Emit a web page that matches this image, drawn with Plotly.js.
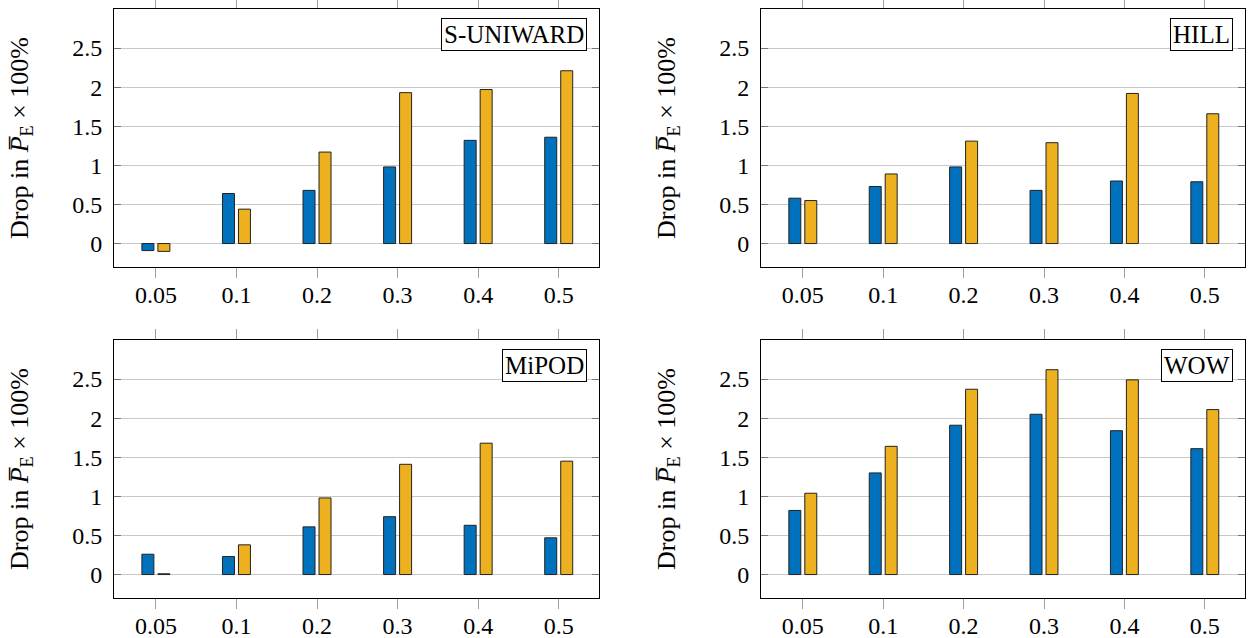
<!DOCTYPE html>
<html>
<head>
<meta charset="utf-8">
<script src="https://cdn.plot.ly/plotly-3.0.1.min.js"></script>
<style>html,body{margin:0;padding:0;background:#fff;}#chart{width:1248px;height:638px;}</style>
</head>
<body>
<div id="chart"></div>
<script>
// Embedding rates (categories)
const categories = ['0.05', '0.1', '0.2', '0.3', '0.4', '0.5'];
const yTicks = [0, 0.5, 1, 1.5, 2, 2.5];
const yTickLabels = ['0', '0.5', '1', '1.5', '2', '2.5'];
const panelNames = ['S-UNIWARD', 'HILL', 'MiPOD', 'WOW'];

// Drop in P_E x 100% (blue series, orange series)
const suniwardBlue   = [-0.09, 0.64, 0.68, 0.98, 1.32, 1.36];
const suniwardOrange = [-0.10, 0.44, 1.17, 1.93, 1.97, 2.21];
const hillBlue       = [0.58, 0.73, 0.98, 0.68, 0.80, 0.79];
const hillOrange     = [0.55, 0.89, 1.31, 1.29, 1.92, 1.66];
const mipodBlue      = [0.26, 0.23, 0.61, 0.74, 0.63, 0.47];
const mipodOrange    = [0.01, 0.38, 0.98, 1.41, 1.68, 1.45];
const wowBlue        = [0.82, 1.30, 1.91, 2.05, 1.84, 1.61];
const wowOrange      = [1.04, 1.64, 2.37, 2.62, 2.49, 2.11];

const blueSeries = [suniwardBlue, hillBlue, mipodBlue, wowBlue];
const orangeSeries = [suniwardOrange, hillOrange, mipodOrange, wowOrange];

const BLUE = '#0072BD', ORANGE = '#EDB120';
const FONT = '"Liberation Serif", "DejaVu Serif", serif';

const traces = [];
const layout = {
  width: 1248, height: 638,
  margin: {l: 0, r: 0, t: 0, b: 0},
  paper_bgcolor: '#ffffff', plot_bgcolor: '#ffffff',
  showlegend: false,
  barmode: 'group',
  bargap: 0.603,
  bargroupgap: 0.25,
  font: {family: FONT, size: 24, color: '#000'},
  annotations: []
};

const xDomains = [[114/1248, 599/1248], [761/1248, 1245/1248], [114/1248, 599/1248], [761/1248, 1245/1248]];
const yDomains = [[1 - 267/638, 1 - 9/638], [1 - 267/638, 1 - 9/638], [1 - 598/638, 1 - 340/638], [1 - 598/638, 1 - 340/638]];

for (let i = 0; i < 4; i++) {
  const sfx = i === 0 ? '' : String(i + 1);
  const xa = 'x' + sfx, ya = 'y' + sfx;
  traces.push({
    type: 'bar', x: categories, y: blueSeries[i], xaxis: xa, yaxis: ya,
    name: 'Series 1', marker: {color: BLUE, line: {color: '#222', width: 1}}
  });
  traces.push({
    type: 'bar', x: categories, y: orangeSeries[i], xaxis: xa, yaxis: ya,
    name: 'Series 2', marker: {color: ORANGE, line: {color: '#222', width: 1}}
  });
  layout['xaxis' + sfx] = {
    domain: xDomains[i], anchor: ya, type: 'category',
    range: [-0.52, 5.5],
    showline: true, linecolor: '#000', linewidth: 1, mirror: 'allticks',
    ticks: 'outside', ticklen: 10, tickwidth: 1, tickcolor: '#a0a0a0',
    showgrid: false, zeroline: false,
    ticklabelstandoff: -4,
    tickfont: {family: FONT, size: 24, color: '#000'},
    fixedrange: true
  };
  layout['yaxis' + sfx] = {
    domain: yDomains[i], anchor: xa,
    range: [-0.3, 3.0],
    tickvals: yTicks, ticktext: yTickLabels,
    showline: true, linecolor: '#000', linewidth: 1, mirror: 'allticks',
    ticks: 'inside', ticklen: 7, tickwidth: 1, tickcolor: '#777',
    showgrid: true, gridcolor: '#c8c8c8', gridwidth: 1,
    zeroline: false,
    ticklabelstandoff: 6,
    tickfont: {family: FONT, size: 24, color: '#000'},
    title: {text: 'Drop in <i>P\u0305</i><sub>E</sub> \u00d7 100%', font: {family: FONT, size: 26, color: '#000'}, standoff: 36},
    automargin: false,
    fixedrange: true
  };
  layout.annotations.push({
    xref: xa + ' domain', yref: ya + ' domain', x: 1, y: 1,
    xanchor: 'right', yanchor: 'top', xshift: -12, yshift: -9,
    text: panelNames[i], showarrow: false,
    font: {family: FONT, size: 25, color: '#000'},
    bgcolor: '#fff', bordercolor: '#000', borderwidth: 1, borderpad: 2
  });
}

Plotly.newPlot('chart', traces, layout, {staticPlot: true, displayModeBar: false});
</script>
</body>
</html>
